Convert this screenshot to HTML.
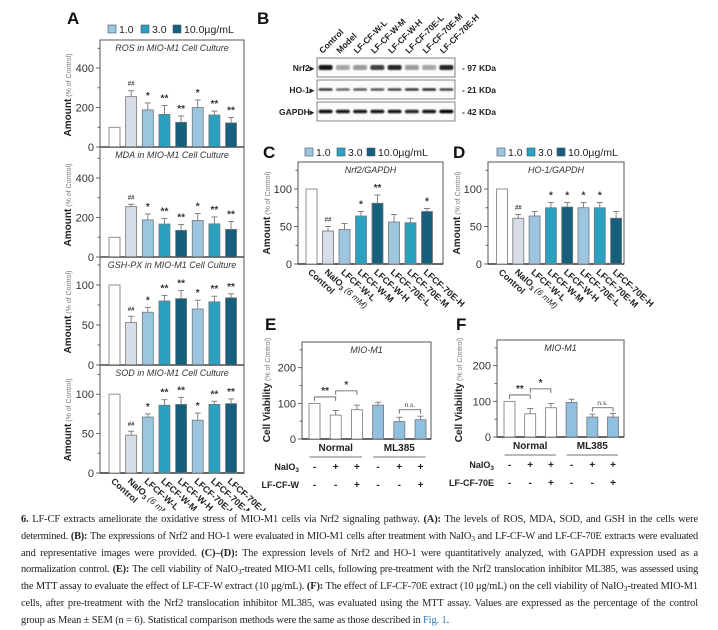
<!DOCTYPE html>
<html><head><meta charset="utf-8">
<style>
html,body{margin:0;padding:0;background:#fff;}
body{width:718px;height:627px;position:relative;overflow:hidden;font-family:"Liberation Sans",sans-serif;}
#fig{position:absolute;left:0;top:0;}
#cap{position:absolute;left:21px;top:512px;width:677px;font-family:"Liberation Serif",serif;font-size:10.4px;letter-spacing:-0.12px;line-height:16.8px;color:#222;}
#cap div{white-space:nowrap;text-align:justify;text-align-last:justify;height:16.8px;}
#cap div.t{letter-spacing:-0.22px;}
#cap div.last{text-align-last:left;}
#cap b{font-weight:bold;}
#cap a{color:#2a7ab8;text-decoration:none;}
#cap .s{font-size:7.5px;position:relative;top:2px;}
</style></head>
<body>
<svg id="fig" width="718" height="511" viewBox="0 0 718 511" xmlns="http://www.w3.org/2000/svg" font-family="Liberation Sans, sans-serif">
<defs><filter id="blur" x="-20%" y="-100%" width="140%" height="300%"><feGaussianBlur stdDeviation="0.9"/></filter></defs>
</svg>
<div id="cap">
<div><b>6.</b> LF-CF extracts ameliorate the oxidative stress of MIO-M1 cells via Nrf2 signaling pathway. <b>(A):</b> The levels of ROS, MDA, SOD, and GSH in the cells were</div>
<div class="t">determined. <b>(B):</b> The expressions of Nrf2 and HO-1 were evaluated in MIO-M1 cells after treatment with NaIO<span class="s">3</span> and LF-CF-W and LF-CF-70E extracts were evaluated</div>
<div>and representative images were provided. <b>(C)–(D):</b> The expression levels of Nrf2 and HO-1 were quantitatively analyzed, with GAPDH expression used as a</div>
<div class="t">normalization control. <b>(E):</b> The cell viability of NaIO<span class="s">3</span>-treated MIO-M1 cells, following pre-treatment with the Nrf2 translocation inhibitor ML385, was assessed using</div>
<div>the MTT assay to evaluate the effect of LF-CF-W extract (10 μg/mL). <b>(F):</b> The effect of LF-CF-70E extract (10 μg/mL) on the cell viability of NaIO<span class="s">3</span>-treated MIO-M1</div>
<div>cells, after pre-treatment with the Nrf2 translocation inhibitor ML385, was evaluated using the MTT assay. Values are expressed as the percentage of the control</div>
<div class="last">group as Mean ± SEM (n = 6). Statistical comparison methods were the same as those described in <a>Fig. 1</a>.</div>
</div>
<script>
// ---- data ----
const groups = ["Control","NaIO3","LFCF-W-L","LFCF-W-M","LFCF-W-H","LFCF-70E-L","LFCF-70E-M","LFCF-70E-H"];
const rosVals = [100,255,188,165,125,200,162,122];
const rosErr  = [0,30,35,45,32,38,20,28];
const rosSig  = ["","##","*","**","**","*","**","**"];
const mdaVals = [100,255,188,167,135,185,168,140];
const mdaErr  = [0,12,30,28,30,35,35,40];
const mdaSig  = ["","##","*","**","**","*","**","**"];
const gshVals = [100,53,66,80,83,70,79,84];
const gshErr  = [0,8,6,7,10,11,7,5];
const gshSig  = ["","##","*","**","**","*","**","**"];
const sodVals = [100,48,71,86,87,67,87,88];
const sodErr  = [0,5,4,7,9,9,4,6];
const sodSig  = ["","##","*","**","**","*","**","**"];
const nrfVals = [100,44,46,64,81,56,55,70];
const nrfErr  = [0,6,8,6,11,10,6,4];
const nrfSig  = ["","##","","*","**","","","*"];
const hoVals  = [100,61,64,75,76,75,75,61];
const hoErr   = [0,5,6,7,6,7,7,9];
const hoSig   = ["","##","","*","*","*","*",""];
const viabE   = [100,67,82,95,49,54];
const viabEErr= [0,13,13,8,12,10];
const viabF   = [100,65,82,97,56,56];
const viabFErr= [0,15,12,9,8,10];
const naio3Row = ["-","+","+","-","+","+"];
const extractRow = ["-","-","+","-","-","+"];
const lanes = ["Control","Model","LF-CF-W-L","LF-CF-W-M","LF-CF-W-H","LF-CF-70E-L","LF-CF-70E-M","LF-CF-70E-H"];
const nrf2Band = [0.9,0.35,0.4,0.75,0.85,0.4,0.35,0.85];
const ho1Band  = [0.8,0.6,0.65,0.65,0.75,0.8,0.85,0.75];
const gapdhBand= [0.95,0.9,0.9,0.9,0.9,0.85,0.9,1.0];

const COLORS = ["#ffffff","#d6dde7","#9cc6e0","#2ba1c2","#16607e","#9cc6e0","#2ba1c2","#16607e"];
const svg = document.getElementById('fig');
const NS = "http://www.w3.org/2000/svg";
function el(tag, attrs, parent){const e=document.createElementNS(NS,tag);for(const k in attrs)e.setAttribute(k,attrs[k]);(parent||svg).appendChild(e);return e;}
function txt(s, attrs, parent){const t=el('text',attrs,parent);t.textContent=s;return t;}

function panelLetter(s,x,y){const t=txt(s,{x:x,y:y,'font-size':17,'font-weight':'bold',fill:'#111'});

}

function legend(x1,x2,x3,y,name){
  const g=el('g',{});
  
  
  const items=[[x1,"#9cc6e0","1.0"],[x2,"#2ba1c2","3.0"],[x3,"#16607e","10.0\u00b5g/mL"]];
  items.forEach(it=>{
    const r=el('rect',{x:it[0],y:y-4,width:8,height:8,fill:it[1],stroke:'#456',"stroke-width":0.6},g);
    
    
    const t=txt(it[2],{x:it[0]+11,y:y+4,'font-size':10.5,fill:'#222'},g);
    
    
  });
}

function yTitle(x,ymid,main){
  const t=el('text',{x:0,y:0,transform:`translate(${x},${ymid}) rotate(-90)`,'text-anchor':'middle','font-size':10,'font-weight':'bold',fill:'#222'});
  
  
  const a=el('tspan',{},t);a.textContent=main;
  const b=el('tspan',{'font-size':7,'font-weight':'normal',fill:'#777'},t);b.textContent=" (% of Control)";
}

function barPanel(o){
  const g=el('g',{});
  
  
  const ys=v=>o.y0 - v*(o.y0-o.yTop)/o.max;
  const xs=i=>o.cx0 + i*o.step;
  el('rect',{x:o.x0,y:o.yTop,width:o.x1-o.x0,height:o.y0-o.yTop,fill:'none',stroke:'#555','stroke-width':1},g);
  el('line',{x1:o.x0,x2:o.x1,y1:o.y0,y2:o.y0,stroke:'#333','stroke-width':1.6},g);
  for(let v=0; v<=o.max+0.001; v+=o.minor){
    const major = Math.abs(v/o.major - Math.round(v/o.major))<1e-6;
    el('line',{x1:o.x0-(major?4:2.5),x2:o.x0,y1:ys(v),y2:ys(v),stroke:'#444','stroke-width':0.8},g);
    if(major){const t=txt(String(v),{x:o.x0-6,y:ys(v)+4,'text-anchor':'end','font-size':11,fill:'#333'},g);
      
      }
  }
  if(o.title){const t=txt(o.title,{x:(o.x0+o.x1)/2,y:o.yTop+11,'text-anchor':'middle','font-size':9,'font-style':'italic',fill:'#333'},g);
    
    }
  o.vals.forEach((v,i)=>{
    const cx=xs(i), w=o.w;
    const b=el('rect',{x:cx-w/2,y:ys(v),width:w,height:o.y0-ys(v),fill:o.colors[i],stroke:'#777','stroke-width':0.8},g);
    
    
    const e=o.errs[i];
    if(e>0){
      el('line',{x1:cx,x2:cx,y1:ys(v),y2:ys(v+e),stroke:'#777','stroke-width':0.9},g);
      el('line',{x1:cx-3,x2:cx+3,y1:ys(v+e),y2:ys(v+e),stroke:'#777','stroke-width':0.9},g);
    }
    if(o.sigs && o.sigs[i]){
      const s=o.sigs[i];
      const t=txt(s,{x:cx,y:ys(v+e)-(s=="##"?5:4),'text-anchor':'middle','font-size':s=="##"?6:10,'font-weight':'bold',fill:'#333'},g);
      
      
    }
  });
  return {ys,xs};
}

function xLabels(cx0,step,yAxis,name){
  const g=el('g',{});
  
  
  groups.forEach((lab,i)=>{
    const x=cx0+i*step-4, y=yAxis+9;
    const t=el('text',{x:0,y:0,transform:`translate(${x},${y}) rotate(42)`,'font-size':9,'font-weight':'bold',fill:'#222'},g);
    
    
    if(lab==="NaIO3"){
      const a=el('tspan',{},t);a.textContent="NaIO";
      const b=el('tspan',{'font-size':6.5,dy:2},t);b.textContent="3";
      const c=el('tspan',{'font-weight':'normal','font-style':'italic',dy:-2,'font-size':8.5},t);c.textContent=" (6 mM)";
    } else t.textContent=lab;
  });
}

// ---- Panel A ----
panelLetter("A",67,24);
legend(108,141,173,29,"legend-a");
const Ax0=100,Ax1=244,Acx=114.5,Astep=16.65,Aw=11;
barPanel({name:'ros-panel',x0:Ax0,x1:Ax1,yTop:40,y0:147,max:542,minor:100,major:200,cx0:Acx,step:Astep,w:Aw,vals:rosVals,errs:rosErr,sigs:rosSig,colors:COLORS,labels:groups,title:"ROS in MIO-M1 Cell Culture"});
barPanel({name:'mda-panel',x0:Ax0,x1:Ax1,yTop:147,y0:257,max:557,minor:100,major:200,cx0:Acx,step:Astep,w:Aw,vals:mdaVals,errs:mdaErr,sigs:mdaSig,colors:COLORS,labels:groups,title:"MDA in MIO-M1 Cell Culture"});
barPanel({name:'gsh-px-panel',x0:Ax0,x1:Ax1,yTop:257,y0:365,max:135,minor:25,major:50,cx0:Acx,step:Astep,w:Aw,vals:gshVals,errs:gshErr,sigs:gshSig,colors:COLORS,labels:groups,title:"GSH-PX in MIO-M1 Cell Culture"});
barPanel({name:'sod-panel',x0:Ax0,x1:Ax1,yTop:365,y0:473,max:137,minor:25,major:50,cx0:Acx,step:Astep,w:Aw,vals:sodVals,errs:sodErr,sigs:sodSig,colors:COLORS,labels:groups,title:"SOD in MIO-M1 Cell Culture"});
yTitle(71,95,"Amount");yTitle(71,205,"Amount");yTitle(71,312,"Amount");yTitle(71,420,"Amount");
xLabels(Acx,Astep,473,'x-labels-a');

// ---- Panel B (western blot) ----
panelLetter("B",257,24);
(function(){
  const g=el('g',{});
  
  
  const bx0=317,bx1=455,step=(bx1-bx0)/8;
  lanes.forEach((l,i)=>{
    const x=bx0+step*(i+0.5)-3;
    const t=el('text',{x:0,y:0,transform:`translate(${x},54) rotate(-45)`,'font-size':8.5,'font-weight':'bold',fill:'#222'},g);
    t.textContent=l;
    
    
  });
  const rows=[["Nrf2",58,nrf2Band,5,"97 KDa"],["HO-1",80,ho1Band,2.6,"21 KDa"],["GAPDH",102,gapdhBand,3.6,"42 KDa"]];
  rows.forEach(r=>{
    const y=r[1];
    el('rect',{x:bx0,y:y,width:bx1-bx0,height:19,fill:'#fbfbfb',stroke:'#666','stroke-width':0.8},g);
    const lt=txt(r[0]+"\u25B8",{x:bx0-3,y:y+13,'text-anchor':'end','font-size':8.5,'font-weight':'bold',fill:'#222'},g);
    
    
    const kt=txt("- "+r[4],{x:bx1+7,y:y+13,'font-size':8.5,'font-weight':'bold',fill:'#222'},g);
    
    
    r[2].forEach((v,i)=>{
      const cx=bx0+step*(i+0.5);
      const c=Math.round(255*(1-v));
      const band=el('rect',{x:cx-7,y:y+9.5-r[3]/2,width:14,height:r[3],rx:2,fill:`rgb(${c},${c},${c})`,filter:'url(#blur)'},g);
      
      
    });
  });
})();

// ---- Panel C ----
panelLetter("C",263,158);
legend(305,337,367,152,"legend-c");
barPanel({name:'nrf2-gapdh-panel',x0:298,x1:443,yTop:162,y0:264,max:136,minor:25,major:50,cx0:311.5,step:16.5,w:11,vals:nrfVals,errs:nrfErr,sigs:nrfSig,colors:COLORS,labels:groups,title:"Nrf2/GAPDH"});
yTitle(270,213,"Amount");
xLabels(311.5,16.5,264,'x-labels-c');

// ---- Panel D ----
panelLetter("D",453,158);
legend(497,527,557,152,"legend-d");
barPanel({name:'ho1-gapdh-panel',x0:488,x1:624,yTop:162,y0:264,max:136,minor:25,major:50,cx0:502,step:16.3,w:11,vals:hoVals,errs:hoErr,sigs:hoSig,colors:COLORS,labels:groups,title:"HO-1/GAPDH"});
yTitle(460,213,"Amount");
xLabels(502,16.3,264,'x-labels-d');

// ---- Panels E / F ----
const VCOL=["#ffffff","#ffffff","#ffffff","#8fc0df","#8fc0df","#8fc0df"];
function viabPanel(o){
  const r=barPanel({name:o.name,x0:o.x0,x1:o.x1,yTop:o.yTop,y0:o.y0,max:272,minor:50,major:100,cx0:o.cx0,step:o.step,w:11,vals:o.vals,errs:o.errs,sigs:null,colors:VCOL,title:"MIO-M1"});
  const ys=r.ys,xs=r.xs;
  const g=el('g',{});
  
  
  function bracket(i,j,val,label,fs){
    const y=ys(val);
    el('path',{d:`M${xs(i)} ${y+4}V${y}H${xs(j)}V${y+4}`,fill:'none',stroke:'#555','stroke-width':0.8},g);
    const t=txt(label,{x:(xs(i)+xs(j))/2,y:y-3,'text-anchor':'middle','font-size':fs,'font-weight':fs>7?'bold':'normal',fill:'#333'},g);
    
    
  }
  bracket(0,1,118,"**",10);
  bracket(1,2,135,"*",10);
  bracket(4,5,82,"n.s.",6.5);
  const gy=o.y0+12;
  [[0,2,"Normal"],[3,5,"ML385"]].forEach(gr=>{
    const t=txt(gr[2],{x:(xs(gr[0])+xs(gr[1]))/2,y:gy,'text-anchor':'middle','font-size':10,'font-weight':'bold',fill:'#222'},g);
    
    
    el('line',{x1:xs(gr[0])-5,x2:xs(gr[1])+5,y1:gy+6,y2:gy+6,stroke:'#444','stroke-width':0.8},g);
  });
  const rows=[["NaIO",naio3Row,gy+19,true],[o.extract,extractRow,gy+37,false]];
  rows.forEach(rw=>{
    const t=txt("",{x:o.x0-3,y:rw[2],'text-anchor':'end','font-size':9,'font-weight':'bold',fill:'#222'},g);
    
    
    const a=el('tspan',{},t);a.textContent=rw[0];
    if(rw[3]){const b=el('tspan',{'font-size':6.5,dy:2},t);b.textContent="3";}
    rw[1].forEach((s,i)=>{
      const m=txt(s,{x:xs(i),y:rw[2],'text-anchor':'middle','font-size':10,'font-weight':'bold',fill:'#222'},g);
      
      
    });
  });
}
panelLetter("E",265,330);
viabPanel({name:'viability-e-panel',x0:302,x1:431,yTop:342,y0:439,cx0:314.5,step:21.2,vals:viabE,errs:viabEErr,extract:"LF-CF-W"});
yTitle(270,390,"Cell Viability");
panelLetter("F",456,330);
viabPanel({name:'viability-f-panel',x0:497,x1:624,yTop:340,y0:437,cx0:509.5,step:20.7,vals:viabF,errs:viabFErr,extract:"LF-CF-70E"});
yTitle(462,390,"Cell Viability");
</script>
</body></html>
